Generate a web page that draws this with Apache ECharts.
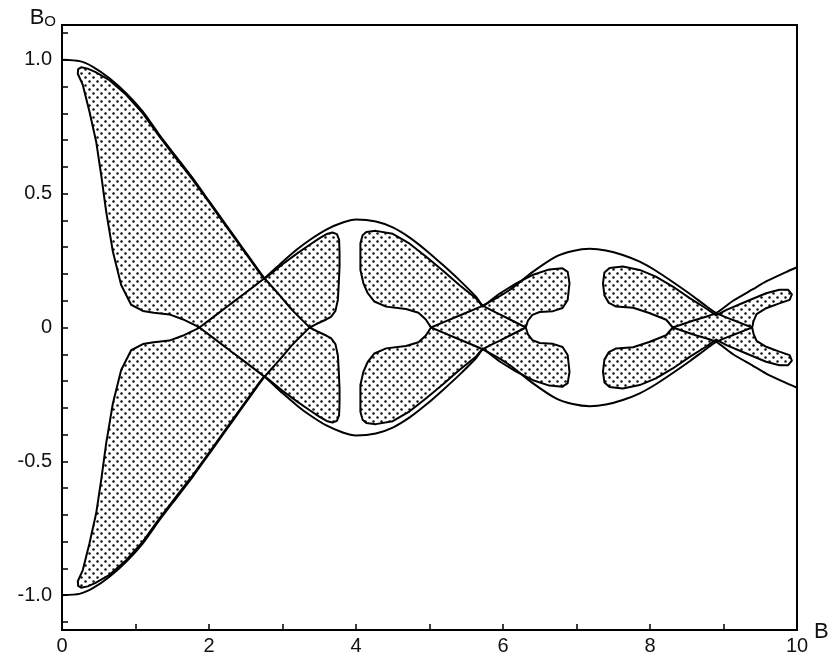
<!DOCTYPE html>
<html>
<head>
<meta charset="utf-8">
<script src="https://cdn.jsdelivr.net/npm/echarts@6/dist/echarts.min.js"></script>
<style>
  html, body { margin: 0; padding: 0; background: #fff; }
  #chart { width: 829px; height: 666px; }
</style>
</head>
<body>
<div id="chart"></div>
<script>
// Boundary lobes B0(B), upper halves only; each lobe is drawn together with its mirror image -B0.
const lobe1 = [[0, 1.0], [0.238, 0.995], [0.42, 0.974], [0.646, 0.931], [0.873, 0.875], [1.10, 0.806],
  [1.327, 0.719], [1.553, 0.638], [1.78, 0.557], [2.007, 0.470], [2.234, 0.383], [2.46, 0.296],
  [2.687, 0.209], [2.755, 0.184], [2.959, 0.121], [3.14, 0.063], [3.37, 0]];
const lobe2 = [[1.87, 0], [2.28, 0.085], [2.755, 0.184], [3.0, 0.245], [3.2, 0.292], [3.37, 0.327],
  [3.59, 0.365], [3.82, 0.392], [4.0, 0.403], [4.27, 0.396], [4.5, 0.374], [4.73, 0.336],
  [4.955, 0.288], [5.18, 0.234], [5.41, 0.176], [5.635, 0.114], [5.725, 0.082], [5.95, 0.05], [6.31, 0]];
const lobe3 = [[5.02, 0], [5.4, 0.044], [5.725, 0.082], [6.09, 0.14], [6.4, 0.207], [6.72, 0.265],
  [6.95, 0.286], [7.18, 0.294], [7.4, 0.288], [7.63, 0.271], [7.86, 0.246], [8.08, 0.212],
  [8.31, 0.17], [8.54, 0.126], [8.76, 0.081], [8.9, 0.054], [9.13, 0.028], [9.39, 0]];
const lobe4 = [[8.31, 0], [8.6, 0.027], [8.9, 0.054], [9.13, 0.1], [9.4, 0.143], [9.58, 0.172],
  [9.85, 0.207], [10, 0.225]];

// Dotted regions: upper half of each outline, running from one cusp on B0 = 0 to the next.
const region1 = [[1.87, 0], [1.83, 0.006], [1.64, 0.031], [1.46, 0.049], [1.25, 0.055], [1.10, 0.062],
  [0.941, 0.085], [0.805, 0.159], [0.692, 0.284], [0.601, 0.433], [0.533, 0.570], [0.465, 0.694],
  [0.374, 0.806], [0.283, 0.906], [0.215, 0.948], [0.22, 0.965], [0.26, 0.972], [0.35, 0.967],
  [0.45, 0.955], [0.646, 0.924], [0.873, 0.869], [1.10, 0.800], [1.327, 0.713], [1.553, 0.632],
  [1.78, 0.551], [2.007, 0.465], [2.234, 0.378], [2.46, 0.292], [2.687, 0.205], [2.755, 0.181],
  [3.0, 0.236], [3.2, 0.277], [3.37, 0.309], [3.5, 0.333], [3.6, 0.349], [3.68, 0.355], [3.74, 0.349],
  [3.77, 0.328], [3.776, 0.28], [3.776, 0.228], [3.765, 0.16], [3.753, 0.103], [3.72, 0.062],
  [3.66, 0.04], [3.594, 0.03], [3.46, 0.013], [3.37, 0]];
const region2 = [[5.02, 0], [4.95, 0.03], [4.85, 0.055], [4.68, 0.069], [4.41, 0.078], [4.25, 0.097],
  [4.16, 0.128], [4.10, 0.166], [4.06, 0.215], [4.06, 0.315], [4.09, 0.345], [4.14, 0.357],
  [4.27, 0.361], [4.5, 0.35], [4.73, 0.313], [4.955, 0.264], [5.18, 0.213], [5.41, 0.158],
  [5.635, 0.108], [5.725, 0.078], [5.95, 0.126], [6.18, 0.165], [6.4, 0.196], [6.63, 0.217],
  [6.81, 0.221], [6.88, 0.208], [6.905, 0.166], [6.88, 0.103], [6.81, 0.073], [6.68, 0.061],
  [6.5, 0.058], [6.4, 0.047], [6.34, 0.026], [6.31, 0]];
const region3 = [[8.31, 0], [8.22, 0.029], [7.99, 0.054], [7.77, 0.074], [7.54, 0.078], [7.44, 0.092],
  [7.38, 0.12], [7.36, 0.165], [7.38, 0.205], [7.45, 0.222], [7.63, 0.228], [7.86, 0.215],
  [8.08, 0.19], [8.31, 0.153], [8.54, 0.11], [8.76, 0.072], [8.9, 0.045], [9.04, 0.066],
  [9.31, 0.097], [9.58, 0.128], [9.76, 0.141], [9.88, 0.141], [9.93, 0.124], [9.9, 0.103],
  [9.76, 0.09], [9.58, 0.072], [9.45, 0.05], [9.41, 0.025], [9.39, 0]];

// Axis ticks and labels.
const xLabelValues = [0, 2, 4, 6, 8, 10];
const yLabelValues = [-1, -0.5, 0, 0.5, 1];
const yLabelText = { '1': '1.0', '0.5': '0.5', '0': '0', '-0.5': '-0.5', '-1': '-1.0' };
const yTickValues = [-1.1, -1.0, -0.9, -0.8, -0.7, -0.6, -0.5, -0.4, -0.3, -0.2, -0.1, 0,
  0.1, 0.2, 0.3, 0.4, 0.5, 0.6, 0.7, 0.8, 0.9, 1.0, 1.1];

const mirror = pts => pts.map(([x, y]) => [x, -y]);
const closeOutline = upper => upper.concat(mirror(upper).reverse().slice(1, -1));

// Stipple texture for the shaded regions (staggered dots).
const dots = document.createElement('canvas');
dots.width = 8; dots.height = 8;
(function () {
  const c = dots.getContext('2d');
  c.fillStyle = '#111';
  c.beginPath(); c.arc(1.5, 1.5, 1.25, 0, Math.PI * 2); c.fill();
  c.beginPath(); c.arc(5.5, 5.5, 1.25, 0, Math.PI * 2); c.fill();
})();

const FONT = '"Liberation Sans", Arial, sans-serif';

function regionSeries(upper) {
  const outline = closeOutline(upper);
  return {
    type: 'custom',
    coordinateSystem: 'cartesian2d',
    silent: true,
    z: 2,
    data: [outline[0]],
    renderItem: (params, api) => ({
      type: 'polygon',
      shape: { points: outline.map(p => api.coord(p)) },
      style: { fill: { image: dots, repeat: 'repeat' }, stroke: '#000', lineWidth: 2, lineJoin: 'round' }
    })
  };
}

function lobeSeries(pts) {
  return {
    type: 'line',
    data: pts,
    symbol: 'none',
    smooth: 0.2,
    silent: true,
    z: 3,
    lineStyle: { color: '#000', width: 2 }
  };
}

const series = [
  regionSeries(region1), regionSeries(region2), regionSeries(region3)
];
[lobe1, lobe2, lobe3, lobe4].forEach(l => {
  series.push(lobeSeries(l));
  series.push(lobeSeries(mirror(l)));
});

const chart = echarts.init(document.getElementById('chart'), null, { renderer: 'canvas' });
chart.setOption({
  animation: false,
  backgroundColor: '#fff',
  grid: {
    left: 62, right: 32, top: 25, bottom: 36, outerBoundsMode: 'none',
    show: true, borderColor: '#000', borderWidth: 2
  },
  xAxis: {
    type: 'value', min: 0, max: 10, interval: 1,
    name: 'B', nameLocation: 'end', nameGap: 14,
    nameTextStyle: { fontFamily: FONT, fontSize: 22, color: '#111', verticalAlign: 'bottom', padding: [0, 0, -13, 0] },
    axisLine: { onZero: false, lineStyle: { color: '#000', width: 2 } },
    axisTick: { inside: true, length: 6, lineStyle: { color: '#000', width: 1.5 } },
    axisLabel: {
      customValues: xLabelValues,
      fontFamily: FONT, fontSize: 20, color: '#111', margin: 6,
      formatter: v => String(v)
    },
    splitLine: { show: false }
  },
  yAxis: {
    type: 'value', min: -1.13, max: 1.13,
    name: '{b|B}{s|O}', nameLocation: 'end', nameGap: 0,
    nameTextStyle: {
      align: 'right', verticalAlign: 'bottom', padding: [0, 6, -4, 0],
      rich: {
        b: { fontFamily: FONT, fontSize: 22, color: '#111' },
        s: { fontFamily: FONT, fontSize: 15, color: '#111', padding: [8, 0, 0, 0] }
      }
    },
    axisLine: { onZero: false, lineStyle: { color: '#000', width: 2 } },
    axisTick: { inside: true, length: 6, customValues: yTickValues, lineStyle: { color: '#000', width: 1.5 } },
    axisLabel: {
      customValues: yLabelValues,
      fontFamily: FONT, fontSize: 20, color: '#111', margin: 10,
      formatter: v => yLabelText[String(v)]
    },
    splitLine: { show: false }
  },
  series: series
});
</script>
</body>
</html>
